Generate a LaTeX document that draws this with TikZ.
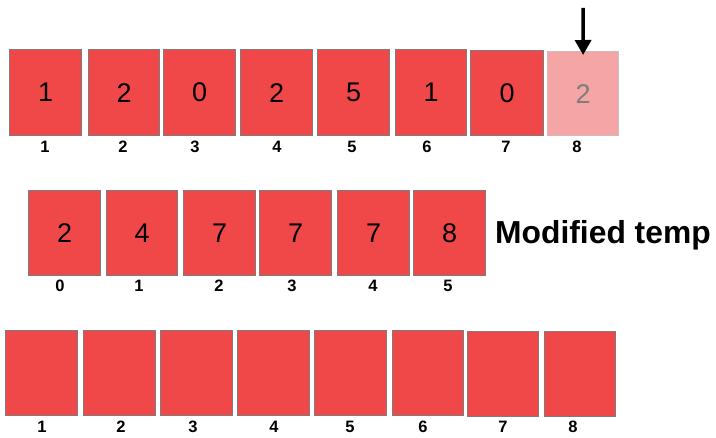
\documentclass[tikz,border=0pt]{standalone}
\usepackage{fontspec}
\setmainfont{Liberation Sans}
\usetikzlibrary{arrows.meta}
\definecolor{cellred}{RGB}{240,72,72}
\definecolor{cellborder}{RGB}{125,125,125}
\definecolor{fadedred}{RGB}{245,165,165}
\definecolor{fadedborder}{RGB}{200,190,190}
\definecolor{fadedtext}{RGB}{125,125,125}
\begin{document}
\begin{tikzpicture}[x=1pt,y=-1pt,
  cell/.style={draw=cellborder, fill=cellred, line width=1.2pt, inner sep=0pt,
    anchor=north west, font=\fontsize{27}{27}\selectfont},
  fadedcell/.style={cell, draw=fadedborder, fill=fadedred, text=fadedtext},
  idx/.style={font=\bfseries\fontsize{16.5}{16.5}\selectfont, inner sep=0pt},
  pointer/.style={line width=3.5pt, -{Triangle[width=16pt,length=15pt]}, shorten >=-4pt}]
\useasboundingbox (0,0) rectangle (716,438);
% row 1
\foreach \a/\t/\b/\bb/\v/\lx [count=\i] in {9/49/81/135/1/45, 88/49/159/135/2/123, 163/49/235/135/0/195,
  240/49/312/135/2/277, 317/49/389/135/5/352, 395/49/466/135/1/427, 470/50/543/135/0/506}{
  \node[cell, minimum width={\b-\a}, minimum height={\bb-\t}] (r1c\i) at (\a,\t) {\v};
  \node[idx] (l1c\i) at (\lx,147) {\i};
}
\node[fadedcell, minimum width=71, minimum height=84] (r1c8) at (547,51) {2};
\node[idx] (l1c8) at (577,147) {8};
\coordinate (atop) at (583,8);
\draw[pointer] (atop) -- (r1c8.north);
% row 2
\foreach \a/\b/\v/\lx [count=\i from 0] in {28/100/2/60, 106/177/4/139, 183/255/7/219,
  259/331/7/292, 337/409/7/373, 413/485/8/448}{
  \node[cell, minimum width={\b-\a}, minimum height=85] (r2c\i) at (\a,190) {\v};
  \node[idx] (l2c\i) at (\lx,286) {\i};
}
\node[anchor=west, inner sep=0pt, font=\bfseries\fontsize{31.8}{31.8}\selectfont] (modtemp) at (495,235) {Modified temp};
% row 3
\foreach \a/\t/\b/\bb/\lx [count=\i] in {5/330/77/415/42, 83/330/155/415/121, 160/330/232/415/193,
  237/330/309/415/274, 314/330/386/415/350, 392/330/463/415/423, 467/331/538/416/503, 544/331/615/416/573}{
  \node[cell, minimum width={\b-\a}, minimum height={\bb-\t}] (r3c\i) at (\a,\t) {};
  \node[idx] (l3c\i) at (\lx,427) {\i};
}
\end{tikzpicture}
\end{document}
